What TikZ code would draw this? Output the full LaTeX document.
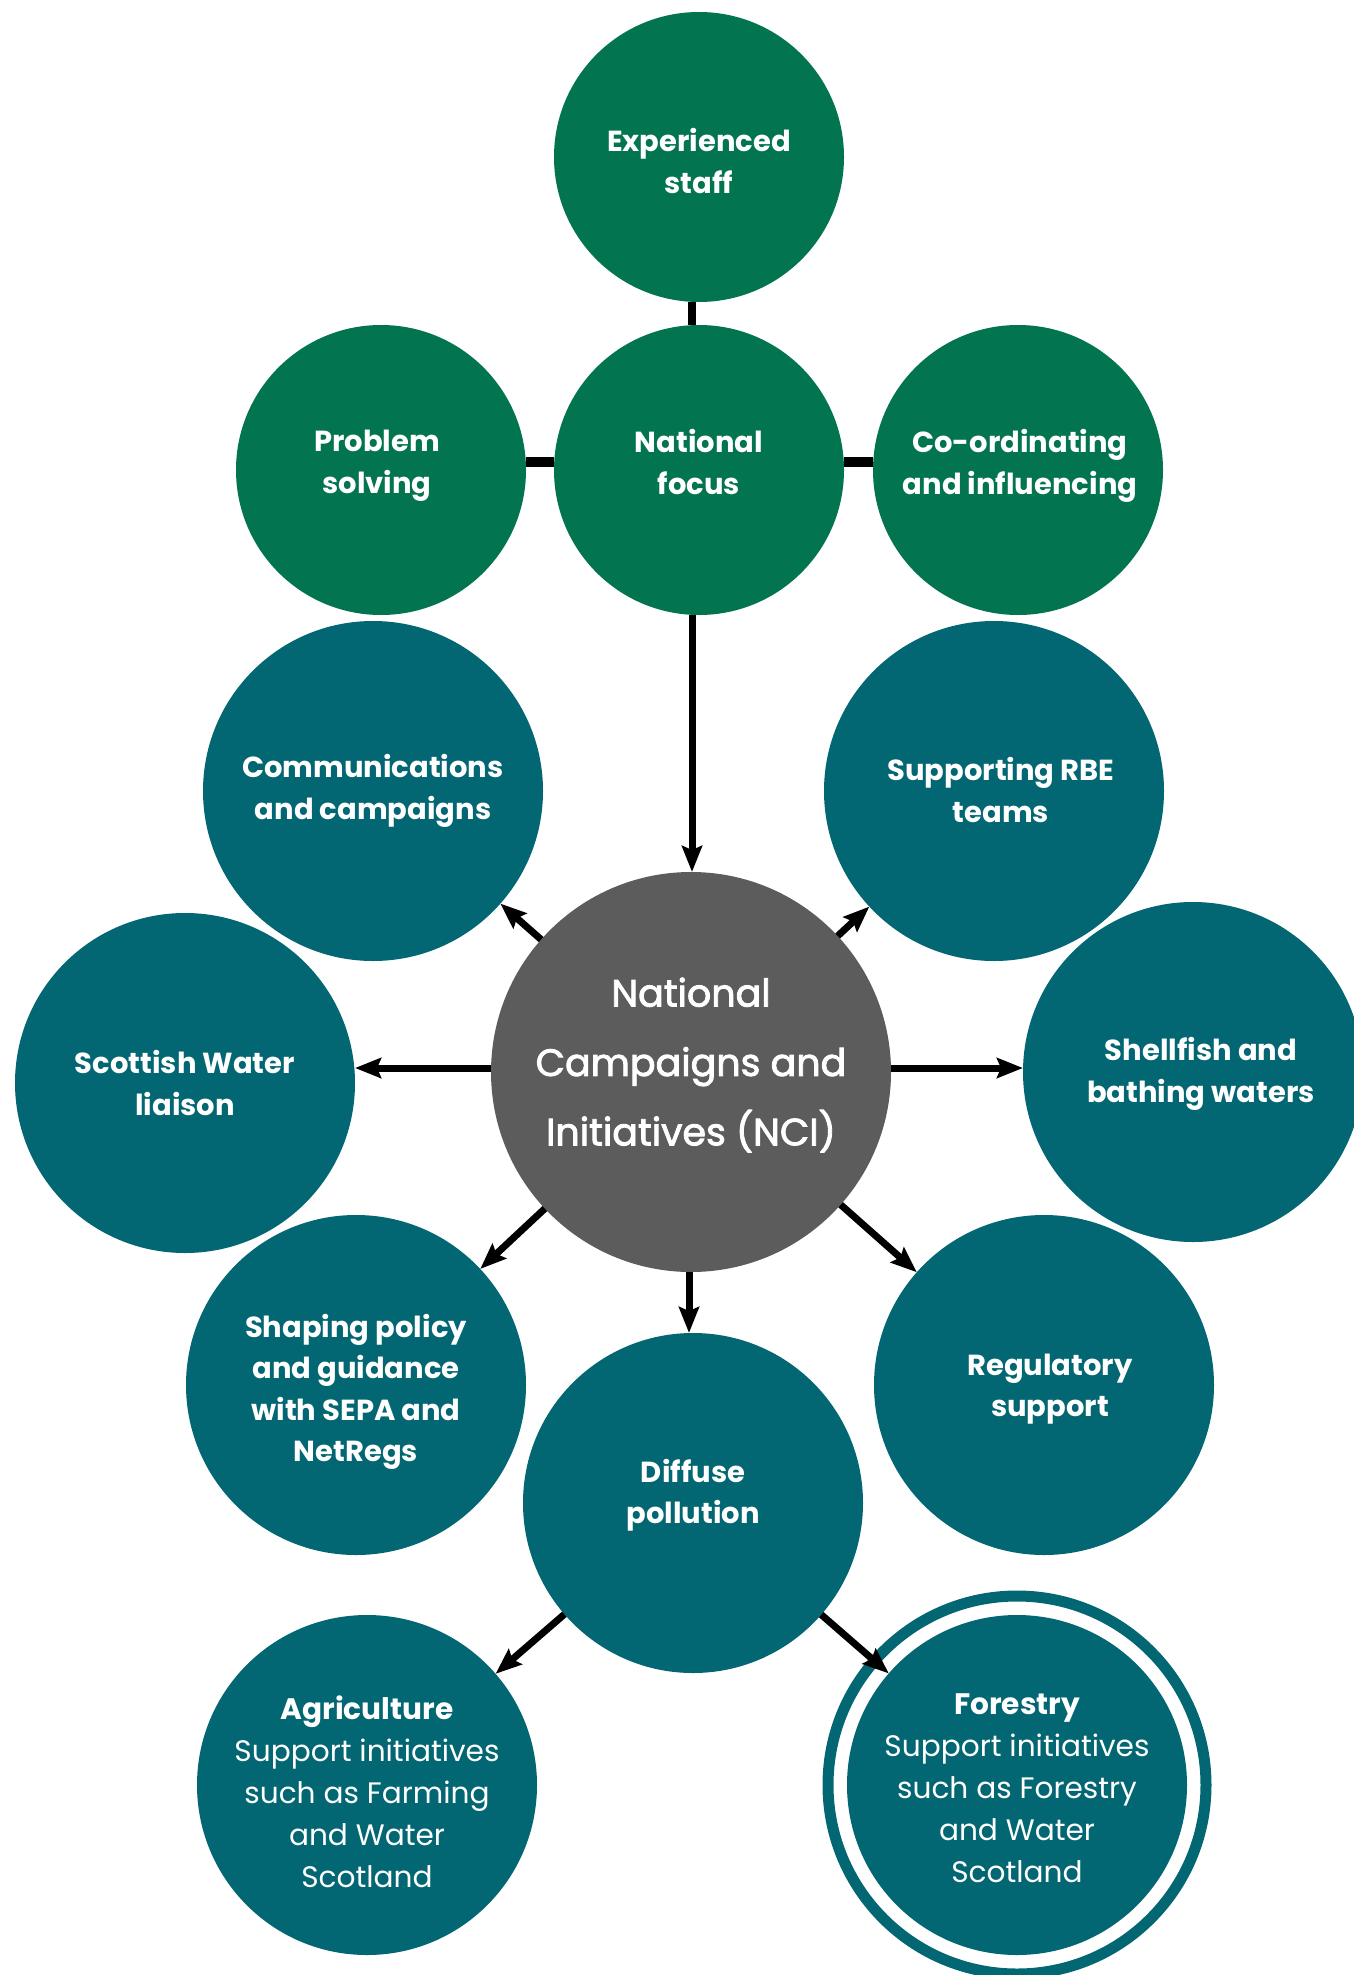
\documentclass[tikz,border=0pt]{standalone}
\usepackage{fontspec}
\setmainfont{Poppins}
\newfontfamily\ncifont{Poppins}[FakeBold=2.2]
\usetikzlibrary{arrows.meta}
\definecolor{grn}{HTML}{037450}
\definecolor{tl}{HTML}{036673}
\definecolor{gry}{HTML}{5C5C5C}
\begin{document}
\begin{tikzpicture}[x=0.5pt,y=-0.5pt,
  bub/.style={circle, inner sep=0pt, outer sep=0pt, minimum size=#1},
  gb/.style={bub=145pt, fill=grn},
  tb/.style={bub=170pt, fill=tl},
  lbl/.style={text=white, align=center, inner sep=0pt, font=\bfseries\fontsize{14.5}{20.75}\selectfont},
  body/.style={text=white, align=center, inner sep=0pt, font=\fontsize{14.8}{21}\selectfont},
  bar/.style={line width=5pt},
  vbar/.style={line width=4pt},
  arr/.style={line width=3.5pt, -{Stealth[length=13pt,width=10pt,inset=2pt]}},
]
\useasboundingbox (0,0) rectangle (1354,1975);
\clip (0,0) rectangle (1354,1975);
\fill[white] (0,0) rectangle (1354,1975);

% green circles
\node[gb] (exp) at (699,157) {};
\node[gb] (nf) at (699,470) {};
\node[gb] (ps) at (381,470) {};
\node[gb] (co) at (1018,470) {};

% teal circles
\node[tb] (comm) at (373,791) {};
\node[tb] (rbe) at (994,791) {};
\node[tb] (sw) at (185,1083) {};
\node[tb] (sf) at (1193,1072) {};
\node[tb] (shp) at (356,1385) {};
\node[tb] (reg) at (1044,1385) {};
\node[tb] (dp) at (693,1503) {};
\node[tb] (agr) at (367,1785) {};
\node[circle, inner sep=0pt, outer sep=0pt, minimum size=189pt, draw=tl, line width=5.5pt] (forring) at (1017,1785) {};
\node[tb] (for) at (1017,1785) {};

% centre
\node[bub=200pt, fill=gry] (nci) at (691,1072) {};

% connectors at the top
\draw[vbar] ([xshift=-3.5pt]exp.south) -- ([xshift=-3.5pt]nf.north);
\draw[bar] ([yshift=4pt]ps.east) -- ([yshift=4pt]nf.west);
\draw[bar] ([yshift=4pt]nf.east) -- ([yshift=4pt]co.west);
\draw[arr] ([xshift=-3.5pt]nf.south) -- ([xshift=-3.5pt]nf.south |- nci.north);

% arrows from centre
\draw[arr] (nci) -- (comm);
\draw[arr] (nci) -- (rbe);
\draw[arr] ([yshift=2pt]nci.west) -- ([yshift=2pt]nci.west -| sw.east);
\draw[arr] ([yshift=2pt]nci.east) -- ([yshift=2pt]nci.east -| sf.west);
\draw[arr] (nci) -- (shp);
\draw[arr] (nci) -- (reg);
\draw[arr] ([xshift=-1pt]nci.south) -- ([xshift=-1pt]nci.south |- dp.north);
\draw[arr] (dp) -- (agr);
\draw[arr] (dp) -- (for);

% labels
\node[lbl] (t-exp) at ([yshift=-2pt]exp) {Experienced\\staff};
\node[lbl] (t-nf) at ([yshift=4pt]nf) {National\\focus};
\node[lbl] (t-ps) at ([yshift=2pt,xshift=-2pt]ps) {Problem\\solving};
\node[lbl] (t-co) at ([yshift=2pt,xshift=1pt]co) {Co-ordinating\\and influencing};
\node[lbl] (t-comm) at ([yshift=0pt]comm) {Communications\\and campaigns};
\node[lbl] (t-rbe) at ([yshift=0.5pt,xshift=3.5pt]rbe) {Supporting RBE\\teams};
\node[lbl] (t-sw) at (sw) {Scottish Water\\liaison};
\node[lbl] (t-sf) at ([yshift=-1pt,xshift=4pt]sf) {Shellfish and\\bathing waters};
\node[lbl] (t-shp) at ([yshift=-3.5pt]shp) {Shaping policy\\and guidance\\with SEPA and\\NetRegs};
\node[lbl] (t-reg) at ([yshift=-2pt,xshift=3pt]reg) {Regulatory\\support};
\node[lbl] (t-dp) at ([yshift=4pt]dp) {Diffuse\\pollution};
\node[text=white, align=center, inner sep=0pt, font=\ncifont\fontsize{19}{34.7}\selectfont] (t-nci) at ([yshift=3.5pt]nci) {National\\Campaigns and\\Initiatives (NCI)};
\node[body] (t-agr) at ([yshift=-3.5pt]agr) {\textbf{Agriculture}\\Support initiatives\\such as Farming\\and Water\\Scotland};
\node[body] (t-for) at ([yshift=-1.5pt]for) {\textbf{Forestry}\\Support initiatives\\such as Forestry\\and Water\\Scotland};
\end{tikzpicture}
\end{document}
